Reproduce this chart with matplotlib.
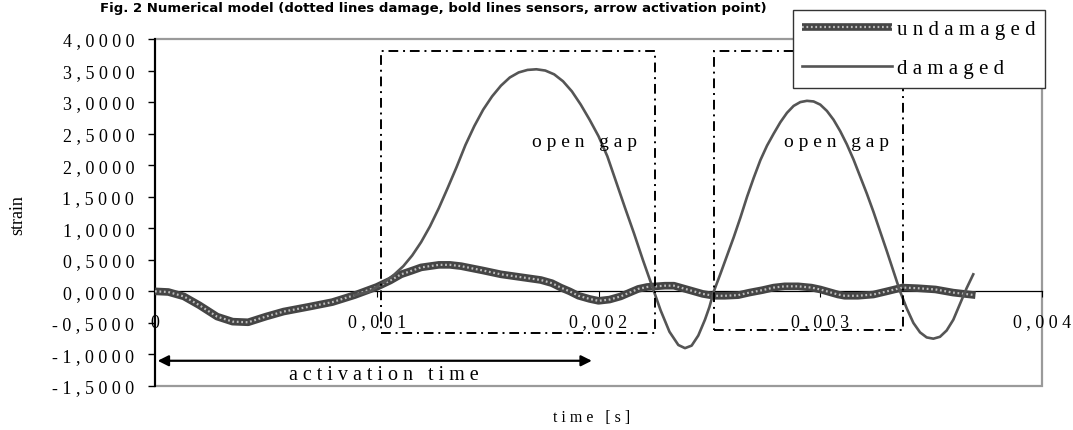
import matplotlib
matplotlib.use('Agg')
import matplotlib.pyplot as plt
from matplotlib.patches import Rectangle
from matplotlib.legend_handler import HandlerTuple

# ---------------- data ----------------
t_undamaged = [0, 0.00006, 0.00013, 0.0002, 0.00028, 0.00035, 0.00042, 0.0005, 0.00058,
               0.0007, 0.0008, 0.0009, 0.001, 0.00106, 0.00111, 0.00116, 0.0012, 0.00124,
               0.00128, 0.00133, 0.00138, 0.00148, 0.00156, 0.00166, 0.00174, 0.00179,
               0.00183, 0.00187, 0.00191, 0.00196, 0.002, 0.00205, 0.0021, 0.00214,
               0.00218, 0.00222, 0.00226, 0.0023, 0.00234, 0.00238, 0.00242, 0.00247,
               0.00252, 0.00257, 0.00263, 0.00268, 0.00274, 0.00279, 0.00284, 0.0029,
               0.00296, 0.003, 0.00304, 0.00308, 0.00311, 0.00317, 0.00324, 0.0033,
               0.00337, 0.00344, 0.00352, 0.0036, 0.0037]
undamaged = [0, -0.01, -0.08, -0.22, -0.40, -0.48, -0.49, -0.40, -0.32,
             -0.24, -0.17, -0.06, 0.07, 0.17, 0.27, 0.33, 0.38, 0.40,
             0.42, 0.42, 0.40, 0.33, 0.27, 0.22, 0.18, 0.13,
             0.06, 0.0, -0.07, -0.12, -0.15, -0.13, -0.08, -0.02,
             0.04, 0.07, 0.08, 0.09, 0.09, 0.05, 0.01, -0.04,
             -0.07, -0.07, -0.06, -0.02, 0.02, 0.06, 0.08, 0.08,
             0.06, 0.03, -0.01, -0.05, -0.07, -0.07, -0.05, 0.0,
             0.06, 0.05, 0.03, -0.02, -0.06]

t_damaged = [0.0009, 0.00097, 0.001, 0.00104, 0.00108, 0.00112, 0.00116, 0.0012, 0.00124,
             0.00128, 0.00132, 0.00136, 0.0014, 0.00144, 0.00148, 0.00152, 0.00156, 0.0016,
             0.00164, 0.00168, 0.00172, 0.00176, 0.0018, 0.00184, 0.00188, 0.00192, 0.00196,
             0.002, 0.00204, 0.00208, 0.00212, 0.00216, 0.0022, 0.00224, 0.00228, 0.00232,
             0.00236, 0.00239, 0.00242, 0.00245, 0.00248, 0.0025, 0.00252, 0.00255, 0.00258,
             0.00261, 0.00264, 0.00267, 0.0027, 0.00273, 0.00276, 0.00279, 0.00282, 0.00285,
             0.00288, 0.00291, 0.00294, 0.00297, 0.003, 0.00303, 0.00306, 0.00309, 0.00312,
             0.00315, 0.00318, 0.00321, 0.00324, 0.00327, 0.0033, 0.00333, 0.00336, 0.00339,
             0.00342, 0.00345, 0.00348, 0.00351, 0.00354, 0.00357, 0.0036, 0.00363, 0.00366,
             0.00369]
damaged = [-0.06, 0.0, 0.07, 0.16, 0.27, 0.40, 0.57, 0.78, 1.03,
           1.32, 1.64, 1.97, 2.32, 2.62, 2.88, 3.09, 3.26, 3.39,
           3.47, 3.51, 3.52, 3.50, 3.44, 3.33, 3.17, 2.96, 2.72,
           2.46, 2.14, 1.73, 1.32, 0.92, 0.50, 0.10, -0.30, -0.64,
           -0.85, -0.90, -0.86, -0.70, -0.45, -0.25, 0.0, 0.28, 0.57,
           0.86, 1.17, 1.50, 1.80, 2.08, 2.31, 2.50, 2.68, 2.83,
           2.94, 3.00, 3.02, 3.01, 2.96, 2.86, 2.72, 2.54, 2.33,
           2.09, 1.82, 1.55, 1.26, 0.95, 0.64, 0.32, 0.0, -0.27,
           -0.50, -0.65, -0.73, -0.75, -0.72, -0.62, -0.45, -0.20, 0.05,
           0.27]

gap_start = [0.00102, 0.00252]
gap_end = [0.002255, 0.003373]
gap_low = [-0.66, -0.61]
gap_high = [3.81, 3.81]
gap_label = ['open gap', 'open gap']
gap_label_t = [0.001937, 0.003072]
gap_label_y = 2.37

activation_start = 0.000012
activation_end = 0.00197
activation_level = -1.1

x_ticks = [0, 0.001, 0.002, 0.003, 0.004]
x_tick_labels = ['0', '0,001', '0,002', '0,003', '0,004']
y_ticks = [-1.5, -1.0, -0.5, 0.0, 0.5, 1.0, 1.5, 2.0, 2.5, 3.0, 3.5, 4.0]
y_tick_labels = ['-1,5000', '-1,0000', '-0,5000', '0,0000', '0,5000', '1,0000',
                 '1,5000', '2,0000', '2,5000', '3,0000', '3,5000', '4,0000']

title_text = 'Fig. 2 Numerical model (dotted lines damage, bold lines sensors, arrow activation point)'

# ---------------- drawing ----------------
plt.rcParams['font.family'] = ['Liberation Serif', 'DejaVu Serif']


def spaced(s):
    return ' '.join(s)


W, H = 1073, 431
fig = plt.figure(figsize=(W / 100, H / 100), dpi=100)
ax = fig.add_axes([155 / W, 1 - 387 / H, (1042 - 155) / W, (387 - 40) / H])
ax.set_xlim(0, 0.004)
ax.set_ylim(-1.5, 4.0)

# border and spines
ax.spines['top'].set_visible(False)
ax.spines['right'].set_visible(False)
ax.spines['left'].set_color('black')
ax.spines['left'].set_linewidth(1.5)
ax.spines['bottom'].set_position(('data', 0))
ax.spines['bottom'].set_color('black')
ax.spines['bottom'].set_linewidth(0.9)
ax.add_patch(Rectangle((0, 0), 1, 1, transform=ax.transAxes, fill=False,
                       edgecolor='#9a9a9a', lw=1.6, clip_on=False, zorder=0.5))

ax.set_xticks(x_ticks)
ax.set_xticklabels([spaced(s) for s in x_tick_labels])
ax.set_yticks(y_ticks)
ax.set_yticklabels([spaced(s) for s in y_tick_labels])
ax.tick_params(axis='x', direction='out', length=4, width=0.8, pad=12, labelsize=13)
ax.tick_params(axis='y', direction='out', length=5, width=1, pad=10, labelsize=13)

# curves
l_und = ax.plot(t_undamaged, undamaged, color='#454545', lw=5.5,
                solid_capstyle='butt', solid_joinstyle='round', zorder=3)[0]
l_und_tex = ax.plot(t_undamaged, undamaged, color='#bdbdbd', lw=1.6,
                    linestyle=(0, (0.8, 1.2)), zorder=3.1)[0]
l_dam = ax.plot(t_damaged, damaged, color='#555555', lw=1.9,
                solid_joinstyle='round', zorder=4)[0]

# open gap boxes
for t0, t1, y0, y1, lab, tl in zip(gap_start, gap_end, gap_low, gap_high, gap_label, gap_label_t):
    ax.add_patch(Rectangle((t0, y0), t1 - t0, y1 - y0, fill=False, edgecolor='black',
                           lw=1.4, linestyle=(0, (5, 2.5, 1, 2.5)), zorder=5))
    ax.text(tl, gap_label_y, spaced(lab), ha='center', va='center', fontsize=14, zorder=6)

# activation arrow
ax.annotate('', xy=(activation_end, activation_level), xytext=(activation_start, activation_level),
            arrowprops=dict(arrowstyle='<|-|>', color='black', lw=1.6, mutation_scale=16,
                            shrinkA=0, shrinkB=0), zorder=6)
ax.text((activation_start + activation_end) / 2 + 0.00004, -1.32, spaced('activation time'),
        ha='center', va='center', fontsize=14.5)

# axis labels
fig.text(18 / W, 1 - 215 / H, 'strain', rotation=90, ha='center', va='center', fontsize=13)
fig.text(592 / W, 1 - 418 / H, spaced('time [s]'), ha='center', va='center', fontsize=11.5)

# title (partly hidden behind the top edge in the original; kept fully visible here)
fig.text(100 / W, 1 - 2 / H, title_text, ha='left', va='top', fontsize=9.5,
         fontweight='bold', family=['DejaVu Sans'])

# legend
leg = ax.legend([(l_und, l_und_tex), l_dam], [spaced('undamaged'), spaced('damaged')],
                handler_map={tuple: HandlerTuple(ndivide=1, pad=0)},
                loc='upper left', bbox_to_anchor=(793 / W, 1 - 11 / H),
                bbox_transform=fig.transFigure, borderaxespad=0, fontsize=15,
                handlelength=4.3, handletextpad=0.25, labelspacing=0.95, borderpad=0.45,
                fancybox=False, framealpha=1, edgecolor='#333333')
leg.get_frame().set_linewidth(1.0)
leg.set_zorder(10)

fig.savefig('out.png', dpi=100)
